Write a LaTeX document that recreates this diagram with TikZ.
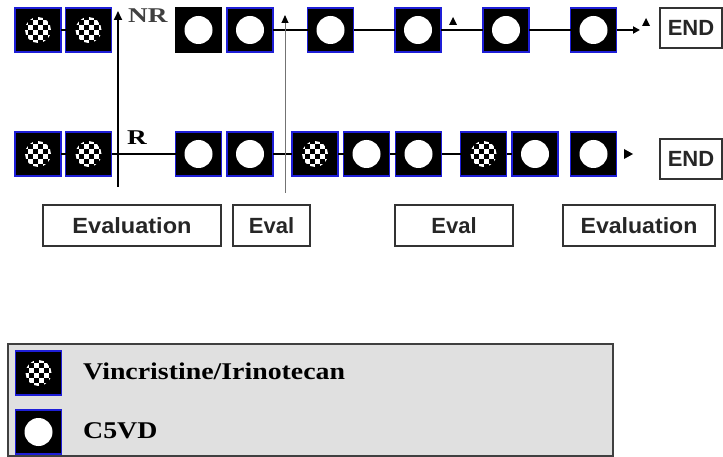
\documentclass[tikz,border=0pt]{standalone}
\usepackage{fontspec}
\setmainfont{Liberation Serif}
\setsansfont{Liberation Sans}
\usetikzlibrary{arrows.meta}
\definecolor{cellblue}{RGB}{30,30,215}
\definecolor{legfill}{RGB}{224,224,224}
\begin{document}
\begin{tikzpicture}[x=1pt,y=-1pt,
  cell/.style={draw=cellblue, fill=black, line width=1.5pt, minimum width=46pt, minimum height=44pt, inner sep=0pt, outer sep=0pt},
  plain/.style={draw=black},
  circ/.style={cell, path picture={\fill[white] (path picture bounding box.center) circle[radius=14pt];}},
  chk/.style={cell, path picture={%
     \begin{scope}
     \clip (path picture bounding box.center) circle[radius=13pt];
     \foreach \i in {-3,...,2}{\foreach \j in {-3,...,2}{%
        \pgfmathtruncatemacro\kk{mod(\i+\j+20,2)}%
        \ifnum\kk=0 \fill[white] ([shift={(\i*5pt,\j*5pt)}]path picture bounding box.center) rectangle ++(5pt,5pt);\fi}}
     \end{scope}}},
  conn/.style={line width=2pt, black},
  evalbox/.style={draw=black!80, line width=1.5pt, fill=white, minimum height=41pt, inner sep=0pt, font=\sffamily\bfseries\fontsize{22}{26}\selectfont, text=black!85},
  endbox/.style={draw=black!80, line width=1.5pt, fill=white, minimum height=40pt, inner xsep=8pt, anchor=west, font=\sffamily\bfseries\fontsize{22}{26}\selectfont, text=black!85},
  lbl/.style={font=\bfseries\fontsize{21}{24}\selectfont, inner sep=0pt, anchor=base west},
  legtext/.style={font=\bfseries\fontsize{24}{28}\selectfont, inner sep=0pt, anchor=base west},
  tri/.style={fill=black}
]
\useasboundingbox (0,0) rectangle (723,457);

% top row (NR)
\node[chk] (t1) at (38,30) {};
\node[chk] (t2) at (88.5,30) {};
\node[circ,plain] (t3) at (198.5,30) {};
\node[circ] (t4) at (250,30) {};
\node[circ] (t5) at (330.5,30) {};
\node[circ] (t6) at (418,30) {};
\node[circ] (t7) at (506,30) {};
\node[circ] (t8) at (593.5,30) {};
\coordinate (tend) at (640,30);
\draw[conn] (t1) -- (t2);
\draw[conn] (t4) -- (t5);
\draw[conn] (t5) -- (t6);
\draw[conn] (t6) -- (t7);
\draw[conn] (t7) -- (t8);
\draw[conn, -{Triangle[length=7pt,width=7pt]}] (t8) -- (tend);

% bottom row (R)
\node[chk] (b1) at (38,154) {};
\node[chk] (b2) at (88.5,154) {};
\node[circ] (b3) at (198.5,154) {};
\node[circ] (b4) at (250,154) {};
\node[chk] (b5) at (315,154) {};
\node[circ] (b6) at (366.5,154) {};
\node[circ] (b7) at (418.5,154) {};
\node[chk] (b8) at (483.5,154) {};
\node[circ] (b9) at (535,154) {};
\node[circ] (b10) at (593.5,154) {};
\draw[conn] (b1) -- (b2);
\draw[conn] (b2) -- (b3);
\draw[conn] (b4) -- (b5);
\draw[conn] (b5) -- (b6);
\draw[conn] (b6) -- (b7);
\draw[conn] (b7) -- (b8);
\draw[conn] (b8) -- (b9);
\fill[tri] (624,149) -- (633,154) -- (624,159) -- cycle;

% vertical arrows
\coordinate (vbot) at (118,187);
\coordinate (vtop) at (118,11);
\draw[line width=2pt, -{Triangle[length=9pt,width=8pt]}] (vbot) -- (vtop);
\coordinate (gbot) at (285,193);
\coordinate (gtop) at (285,15);
\draw[black!55, line width=1pt, -{Triangle[length=8pt,width=7pt,black]}] (gbot) -- (gtop);
\fill[tri] (449,25) -- (453,17) -- (457,25) -- cycle;
\fill[tri] (642,26) -- (646,18) -- (650,26) -- cycle;

% labels
\node[lbl, text=black!75] (nr) at (128,23) {\scalebox{1.3}[1]{NR}};
\node[lbl] (r) at (127,145) {\scalebox{1.3}[1]{R}};

% END boxes
\node[endbox] (e1) at (659,28) {END\hspace{20pt}};
\node[endbox] (e2) at (659,159) {END\hspace{20pt}};

% evaluation boxes
\node[evalbox, minimum width=178pt] (ev1) at (132,225.5) {\scalebox{1.07}[1]{Evaluation}};
\node[evalbox, minimum width=77pt] (ev2) at (271.5,225.5) {Eval};
\node[evalbox, minimum width=118pt] (ev3) at (454,225.5) {Eval};
\node[evalbox, minimum width=152pt] (ev4) at (639,225.5) {\scalebox{1.05}[1]{Evaluation}};

% legend
\node[draw=black!75, line width=1.5pt, fill=legfill, minimum width=605pt, minimum height=112pt, inner sep=0pt, anchor=north west] (leg) at (7,343) {};
\node[chk] (l1) at (38.5,373) {};
\node[circ] (l2) at (38.5,432) {};
\node[legtext] (lt1) at (83,379) {\scalebox{1.16}[1]{Vincristine/Irinotecan}};
\node[legtext] (lt2) at (83,438) {\scalebox{1.16}[1]{C5VD}};
\end{tikzpicture}
\end{document}
